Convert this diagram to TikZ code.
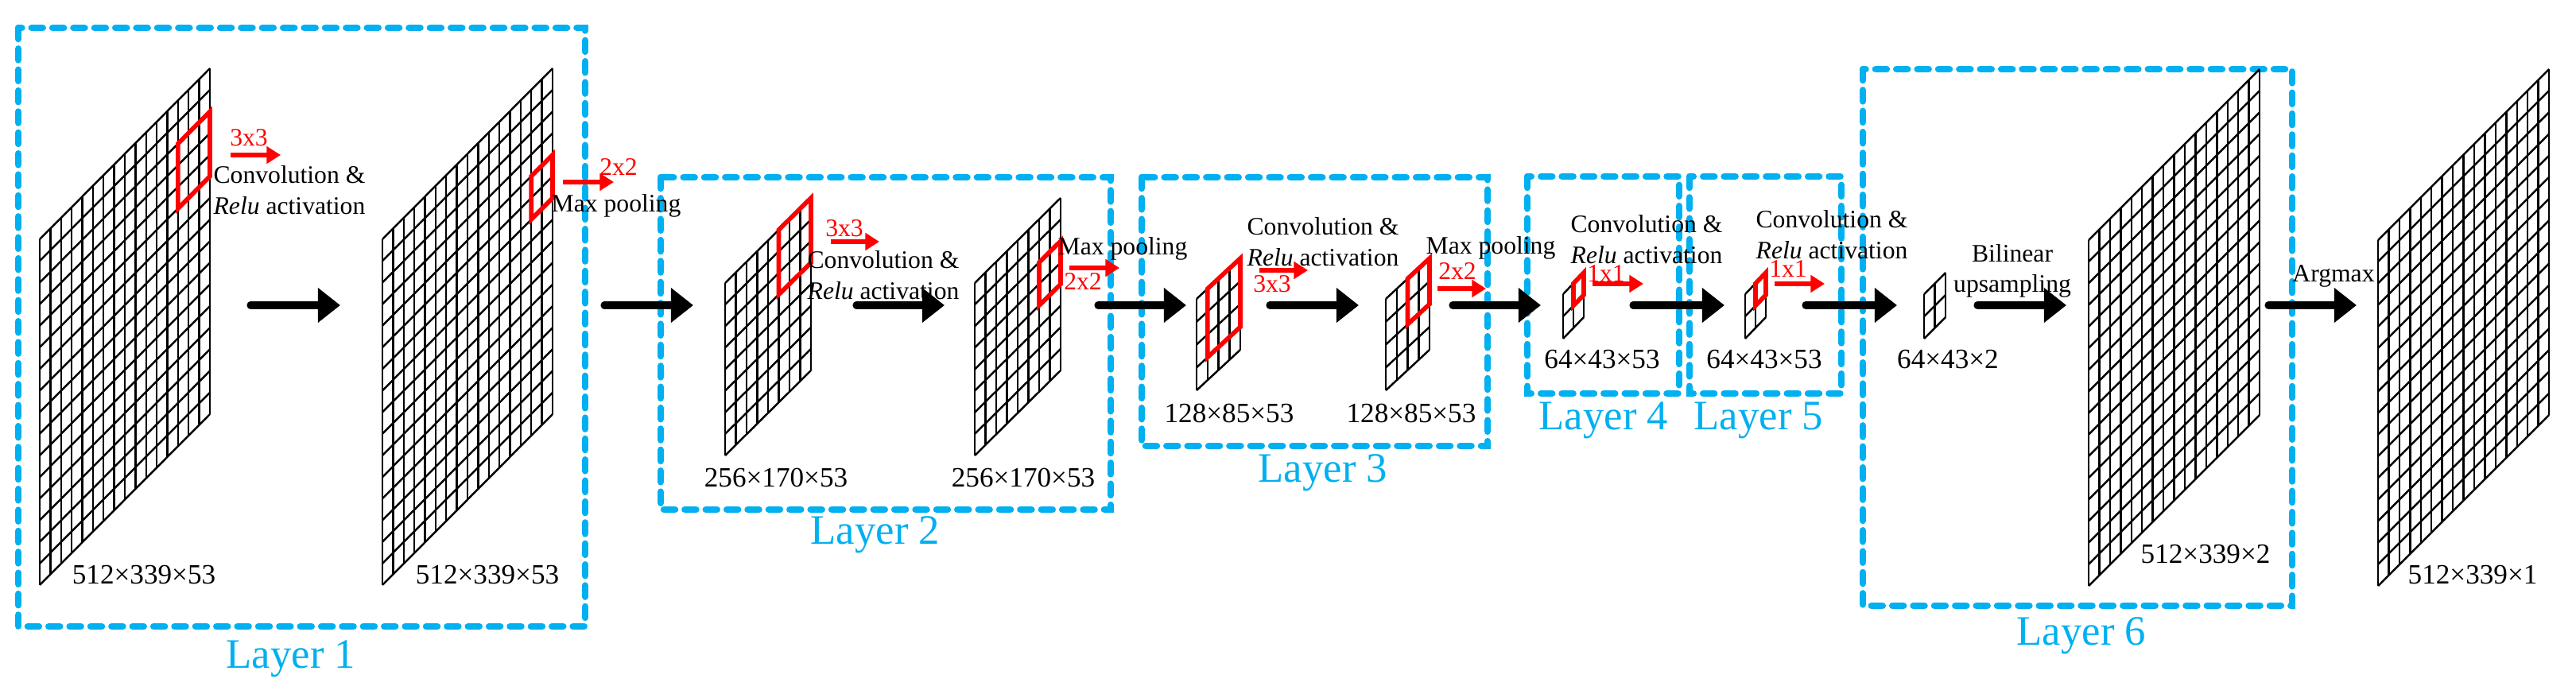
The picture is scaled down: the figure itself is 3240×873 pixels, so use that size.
\documentclass[tikz,border=0pt]{standalone}
\usepackage{fontspec}
\setmainfont{Liberation Serif}
\usepackage{tikz}
\usetikzlibrary{arrows.meta}
\definecolor{boxblue}{RGB}{0,176,240}

% feature map: x, y (bottom-left, from top), width, height, rise, cells, red col, red row, red size
\newcommand{\fmap}[9]{%
 \begin{scope}[shift={(#1,873-#2)}]
 \begin{scope}[cm={1,#5/#3,0,1,(0,0)}]
  \foreach \k in {0,...,#6} {
   \draw[map line] (\k*#3/#6,0) -- ++(0,#4);
   \draw[map line] (0,\k*#4/#6) -- ++(#3,0);
  }
  \ifnum#9>0
   \draw[kernel box] (#7*#3/#6,#8*#4/#6) rectangle ++(#9*#3/#6,#9*#4/#6);
  \fi
 \end{scope}
 \end{scope}}

\tikzset{
 map line/.style = {line width = .7pt, black},
 kernel box/.style = {line width = 1.6pt, red},
 layer box/.style = {boxblue, line width = 2.4pt, line cap = round, dash pattern = on 4pt off 3.5pt},
 layer label/.style = {boxblue, font = \fontsize{15}{17}\selectfont},
 dim/.style = {font = \fontsize{10}{12}\selectfont},
 note/.style = {font = \fontsize{9}{11}\selectfont, align = center},
 op/.style = {red, font = \fontsize{9}{11}\selectfont},
 flow/.style = {line width = 2.6pt, line cap = round, -{Triangle[length = 8pt, width = 12pt]}},
 kernel move/.style = {red, line width = 1.6pt, -{Triangle[length = 5pt, width = 6pt]}}
}

\begin{document}
\begin{tikzpicture}[x = .01cm, y = .01cm]
 \useasboundingbox (0,0) rectangle (3240,873);
 % layer boxes
 \draw[layer box] (23,838) rectangle (736,85);
 \draw[layer box] (831,650) rectangle (1397,232);
 \draw[layer box] (1436,650) rectangle (1871,312);
 \draw[layer box] (1921,651) rectangle (2112,378);
 \draw[layer box] (2125,651) rectangle (2316,378);
 \draw[layer box] (2343,786) rectangle (2883,111);
 \node[layer label] (l1) at (366,44) {Layer 1};
 \node[layer label] (l2) at (1101,200) {Layer 2};
 \node[layer label] (l3) at (1664,278) {Layer 3};
 \node[layer label] (l4) at (2017,344) {Layer 4};
 \node[layer label] (l5) at (2212,344) {Layer 5};
 \node[layer label] (l6) at (2618,73) {Layer 6};

 % feature maps
 \fmap{50}{736}{214}{435}{215}{16}{13}{11}{3}
 \fmap{481}{736}{214}{435}{215}{16}{14}{10}{2}
 \fmap{912}{573}{108}{217}{107}{8}{5}{5}{3}
 \fmap{1226}{573}{108}{217}{107}{8}{6}{4}{2}
 \fmap{1505}{491}{55}{115}{51}{4}{1}{1}{3}
 \fmap{1743}{491}{55}{115}{51}{4}{2}{2}{2}
 \fmap{1966}{426}{26}{56}{27}{2}{1}{1}{1}
 \fmap{2195}{426}{26}{56}{27}{2}{1}{1}{1}
 \fmap{2420}{426}{27}{56}{27}{2}{0}{0}{0}
 \fmap{2627}{737}{215}{435}{215}{16}{0}{0}{0}
 \fmap{2991}{737}{215}{435}{215}{16}{0}{0}{0}

 % sizes
 \node[dim] (d1) at (181,150) {512×339×53};
 \node[dim] (d2) at (613,150) {512×339×53};
 \node[dim] (d3) at (976,272) {256×170×53};
 \node[dim] (d4) at (1287,272) {256×170×53};
 \node[dim] (d5) at (1546,353) {128×85×53};
 \node[dim] (d6) at (1775,353) {128×85×53};
 \node[dim] (d7) at (2015,421) {64×43×53};
 \node[dim] (d8) at (2219,421) {64×43×53};
 \node[dim] (d9) at (2450,421) {64×43×2};
 \node[dim] (d10) at (2774,176) {512×339×2};
 \node[dim] (d11) at (3110,150) {512×339×1};

 % operations
 \node[note] (c1) at (364,634) {Convolution \&\\\textit{Relu} activation};
 \node[note] (c2) at (1111,527) {Convolution \&\\\textit{Relu} activation};
 \node[note] (c3) at (1664,569) {Convolution \&\\\textit{Relu} activation};
 \node[note] (c4) at (2071,572) {Convolution \&\\\textit{Relu} activation};
 \node[note] (c5) at (2304,578) {Convolution \&\\\textit{Relu} activation};
 \node[note] (p1) at (775,614) {Max pooling};
 \node[note] (p2) at (1412,560) {Max pooling};
 \node[note] (p3) at (1875,561) {Max pooling};
 \node[note] (up) at (2531,532) {Bilinear\\upsampling};
 \node[note] (am) at (2935,526) {Argmax};

 \node[op] (k1) at (313,700) {3x3};
 \node[op] (k2) at (778,663) {2x2};
 \node[op] (k3) at (1062,586) {3x3};
 \node[op] (k4) at (1362,519) {2x2};
 \node[op] (k5) at (1600,516) {3x3};
 \node[op] (k6) at (1833,532) {2x2};
 \node[op] (k7) at (2020,529) {1x1};
 \node[op] (k8) at (2249,535) {1x1};

 % kernel arrows
 \foreach \a/\b/\y [count = \i] in {290/353/678, 708/772/644, 1045/1106/569, 1345/1408/536,
   1584/1645/533, 1808/1869/510, 2003/2067/516, 2232/2295/516} {
  \coordinate (s\i) at (\a,\y);
  \coordinate (t\i) at (\b,\y);
  \draw[kernel move] (s\i) -- (t\i);
 }
 % data flow
 \foreach \a/\b [count = \i] in {315/428, 760/872, 1077/1188, 1381/1492, 1597/1709,
   1827/1938, 2054/2169, 2271/2386, 2487/2599, 2853/2964} {
  \coordinate (f\i) at (\a,489);
  \coordinate (g\i) at (\b,489);
  \draw[flow] (f\i) -- (g\i);
 }
\end{tikzpicture}
\end{document}
